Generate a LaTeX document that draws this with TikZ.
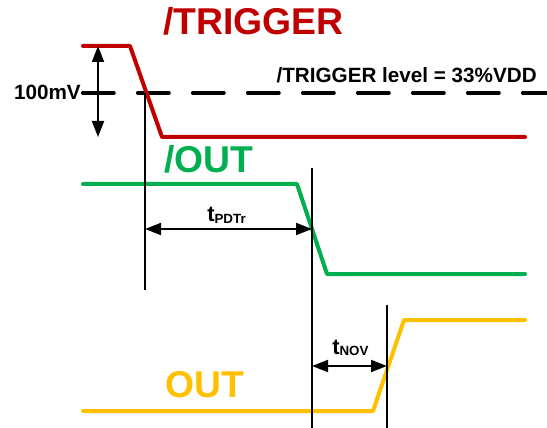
\documentclass[tikz,border=0pt]{standalone}
\usepackage{fontspec}
\setmainfont{Liberation Sans}
\usetikzlibrary{arrows.meta,positioning}

\definecolor{trigred}{RGB}{192,0,0}
\definecolor{outgreen}{RGB}{0,176,80}
\definecolor{outyellow}{RGB}{255,192,0}

\newcommand{\tsub}[2]{{\fontsize{16.5}{17}\selectfont #1}\raisebox{-1pt}{\fontsize{10}{11}\selectfont #2}}

\begin{document}
\begin{tikzpicture}[
x=0.75pt, y=-0.75pt,
wave/.style={line width=3pt, line join=round, line cap=round},
marker/.style={line width=1.4pt},
dim/.style={{Triangle[length=12pt,width=9pt]}-{Triangle[length=12pt,width=9pt]}, line width=1.4pt},
level/.style={line width=2.6pt, line cap=round, dash pattern=on 23.5pt off 17.75pt},
title/.style={font=\fontsize{28}{28}\selectfont\bfseries, inner sep=0pt, anchor=base west},
lbl/.style={font=\fontsize{15.5}{16}\selectfont\bfseries, inner sep=0pt}
]
\useasboundingbox (0,0) rectangle (547,428);

% titles
\node[title, text=trigred] (trig) at (163,35) {/TRIGGER};
\node[title, text=outgreen] (nout) at (164,172) {/OUT};
\node[title, text=outyellow] (out) at (165,397) {OUT};

% threshold
\node[lbl, anchor=base east] (level) at (537,83) {/TRIGGER level = 33\%VDD};
\node[lbl, anchor=base east] (mv) at (81,100) {100mV};
\coordinate (lvlend) at (547,93);
\draw[level] (mv.east |- lvlend) ++(1.7,0) -- (lvlend);

% waveforms
\draw[wave, trigred] (83,46) -- (130,46) -- (162,137) -- (525,137);
\draw[wave, outgreen] (83,184) -- (297,184) -- (327,274) -- (525,274);
\draw[wave, outyellow] (83,411) -- (373,411) -- (404,320) -- (525,320);

% 100mV span
\coordinate (hi) at (98,46);
\coordinate (lo) at (98,137);
\draw[dim] (hi) -- (lo);

% edge markers
\coordinate (m1top) at (145,93);
\coordinate (m1bot) at (145,290);
\coordinate (m2top) at (312,168);
\coordinate (m2bot) at (312,428);
\coordinate (m3top) at (387,305);
\coordinate (m3bot) at (387,428);
\draw[marker] (m1top) -- (m1bot);
\draw[marker] (m2top) -- (m2bot);
\draw[marker] (m3top) -- (m3bot);

% delays
\draw[dim] (m1top |- 0,229) -- (m2top |- 0,229);
\draw[dim] (m2top |- 0,366) -- (m3top |- 0,366);
\node[inner sep=0pt, anchor=base west, font=\bfseries] (tpd) at (207,222) {\tsub{t}{PDTr}};
\node[inner sep=0pt, anchor=base west, font=\bfseries] (tnov) at (332,354) {\tsub{t}{NOV}};
\end{tikzpicture}
\end{document}
